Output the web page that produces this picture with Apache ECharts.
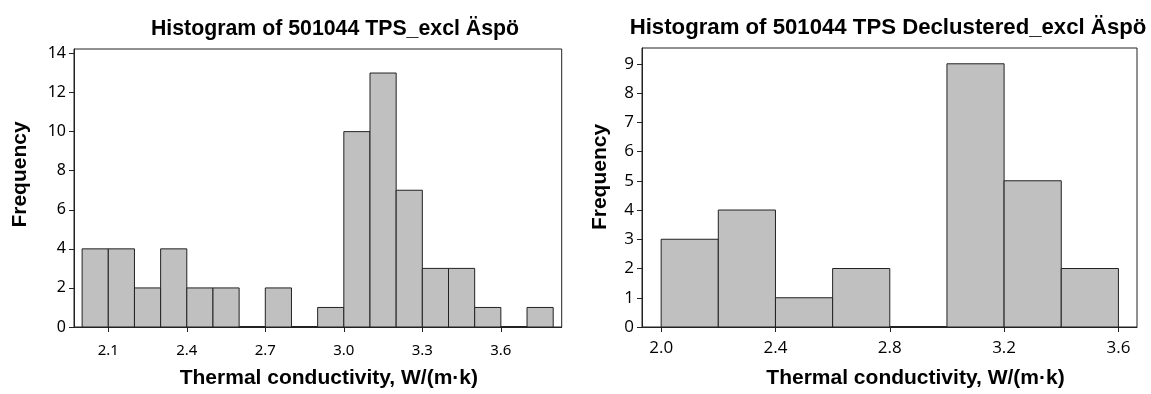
<!DOCTYPE html>
<html>
<head>
<meta charset="utf-8">
<script src="https://cdn.jsdelivr.net/npm/echarts@6/dist/echarts.min.js"></script>
<style>
  html, body { margin: 0; padding: 0; background: #fff; }
  #chart { width: 1151px; height: 394px; }
</style>
</head>
<body>
<div id="chart"></div>
<script>
// Histogram 1: all TPS measurements (bin edges every 0.1 W/(m·k))
const leftTitle = 'Histogram of 501044 TPS_excl Äspö';
const leftBinEdges = [2.0, 2.1, 2.2, 2.3, 2.4, 2.5, 2.6, 2.7, 2.8, 2.9, 3.0, 3.1, 3.2, 3.3, 3.4, 3.5, 3.6, 3.7, 3.8];
const leftCounts = [4, 4, 2, 4, 2, 2, 0, 2, 0, 1, 10, 13, 7, 3, 3, 1, 0, 1];
const leftXTicks = [2.1, 2.4, 2.7, 3.0, 3.3, 3.6];
const leftYTicks = [0, 2, 4, 6, 8, 10, 12, 14];

// Histogram 2: declustered TPS measurements (bin edges every 0.2 W/(m·k))
const rightTitle = 'Histogram of 501044 TPS Declustered_excl Äspö';
const rightBinEdges = [2.0, 2.2, 2.4, 2.6, 2.8, 3.0, 3.2, 3.4, 3.6];
const rightCounts = [3, 4, 1, 2, 0, 9, 5, 2];
const rightXTicks = [2.0, 2.4, 2.8, 3.2, 3.6];
const rightYTicks = [0, 1, 2, 3, 4, 5, 6, 7, 8, 9];

const xName = 'Thermal conductivity, W/(m·k)';
const yName = 'Frequency';

function binsToData(edges, counts) {
  return counts.map((c, i) => [edges[i], edges[i + 1], c]);
}

function renderBin(params, api) {
  const p0 = api.coord([api.value(0), api.value(2)]);
  const p1 = api.coord([api.value(1), 0]);
  const h = p1[1] - p0[1];
  return {
    type: 'rect',
    shape: { x: p0[0], y: p0[1], width: p1[0] - p0[0], height: h },
    style: { fill: '#c0c0c0', stroke: '#222', lineWidth: h === 0 ? 2 : 1 }
  };
}

const boldFont = 'Liberation Sans';

function xAxisOf(gridIndex, min, max, ticks, labelFont, labelSize, labelMargin, shift) {
  return {
    type: 'value', gridIndex, min, max,
    splitLine: { show: false },
    axisLine: { show: true, onZero: false, lineStyle: { color: '#222', width: 1 } },
    axisTick: { show: true, inside: false, length: 5, customValues: ticks, lineStyle: { color: '#222' } },
    axisLabel: {
      customValues: ticks, margin: labelMargin, formatter: v => v.toFixed(1),
      fontFamily: labelFont, fontSize: labelSize, color: '#000'
    },
    name: xName, nameLocation: 'middle', nameGap: 41,
    nameTextStyle: {
      fontFamily: boldFont, fontWeight: 'bold', fontSize: 21, color: '#000',
      padding: [0, 0, 0, shift]
    }
  };
}

function yAxisOf(gridIndex, max, ticks, labelFont, labelSize, gap, shift) {
  return {
    type: 'value', gridIndex, min: 0, max,
    splitLine: { show: false },
    axisLine: { show: true, lineStyle: { color: '#222', width: 1 } },
    axisTick: { show: true, inside: false, length: 5, customValues: ticks, lineStyle: { color: '#222' } },
    axisLabel: { customValues: ticks, margin: 8, fontFamily: labelFont, fontSize: labelSize, color: '#000' },
    name: yName, nameLocation: 'middle', nameGap: gap, nameRotate: 90,
    nameTextStyle: {
      fontFamily: boldFont, fontWeight: 'bold', fontSize: 21, color: '#000',
      padding: [0, 0, 0, shift]
    }
  };
}

const chart = echarts.init(document.getElementById('chart'), null, { renderer: 'canvas' });
chart.setOption({
  backgroundColor: '#fff',
  animation: false,
  title: [
    { text: leftTitle, left: 330, top: 14, textAlign: 'center',
      textStyle: { fontFamily: boldFont, fontWeight: 'bold', fontSize: 21.3, color: '#000' } },
    { text: rightTitle, left: 883, top: 12, textAlign: 'center',
      textStyle: { fontFamily: boldFont, fontWeight: 'bold', fontSize: 22.2, color: '#000' } }
  ],
  grid: [
    { left: 74, top: 49, width: 487.7, height: 283.3, show: true, borderColor: '#222', borderWidth: 1, backgroundColor: 'transparent' },
    { left: 642, top: 48, width: 495, height: 283.7, show: true, borderColor: '#222', borderWidth: 1, backgroundColor: 'transparent' }
  ],
  xAxis: [
    xAxisOf(0, 1.969, 3.8325, leftXTicks, 'Noto Sans', 15, 16, 22),
    xAxisOf(1, 1.933, 3.665, rightXTicks, 'Open Sans', 17, 13, 52)
  ],
  yAxis: [
    yAxisOf(0, 14.23, leftYTicks, 'Noto Sans', 16, 43, 27),
    yAxisOf(1, 9.54, rightYTicks, 'Open Sans', 17, 31, 21)
  ],
  series: [
    {
      type: 'custom', xAxisIndex: 0, yAxisIndex: 0,
      renderItem: renderBin,
      encode: { x: [0, 1], y: 2 },
      data: binsToData(leftBinEdges, leftCounts)
    },
    {
      type: 'custom', xAxisIndex: 1, yAxisIndex: 1,
      renderItem: renderBin,
      encode: { x: [0, 1], y: 2 },
      data: binsToData(rightBinEdges, rightCounts)
    }
  ]
});
</script>
</body>
</html>
